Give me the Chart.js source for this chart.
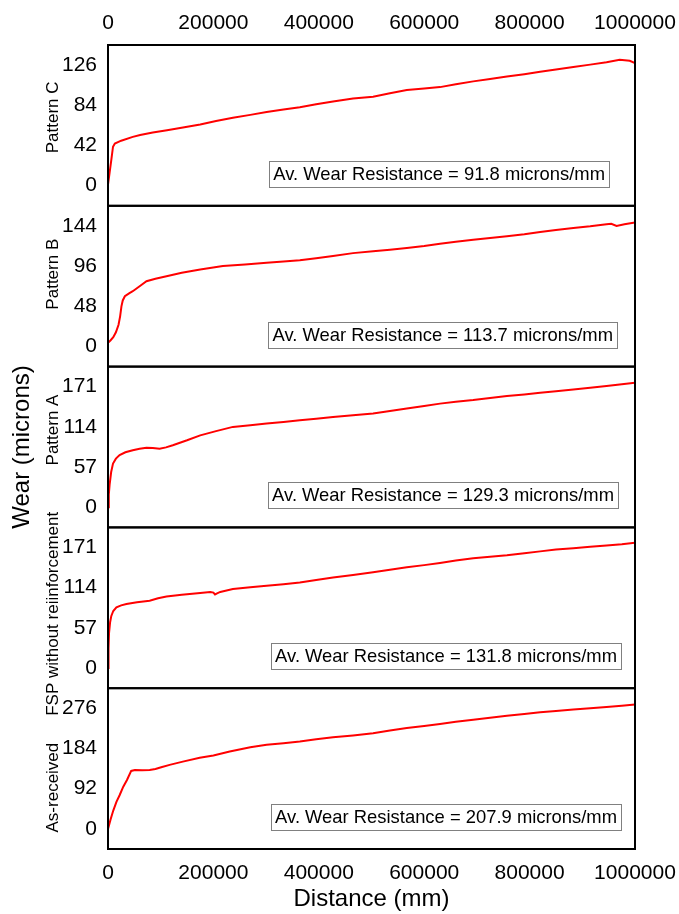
<!DOCTYPE html>
<html>
<head>
<meta charset="utf-8">
<script src="https://cdn.jsdelivr.net/npm/chart.js@4.4.1/dist/chart.umd.min.js"></script>
<style>
  html, body { margin: 0; padding: 0; background: #fff; }
  canvas { display: block; }
</style>
</head>
<body>
<canvas id="wear" width="679" height="914"></canvas>
<script>
// panels from top to bottom
const panelNames = ['Pattern C', 'Pattern B', 'Pattern A', 'FSP without reiinforcement', 'As-received'];
const resistance = [91.8, 113.7, 129.3, 131.8, 207.9];
const tickSteps = [42, 48, 57, 57, 92];
const xTicks = [0, 200000, 400000, 600000, 800000, 1000000];

const cDist = [0, 3000, 6300, 9500, 13000, 25000, 47000, 61000, 85000, 112000, 145000, 175000, 205000, 237000, 270000, 301000, 333000, 364000, 395000, 427000, 465000, 503000, 535000, 567000, 600000, 630000, 660000, 693000, 725000, 757000, 790000, 820000, 850000, 883000, 915000, 946000, 971000, 990000, 1000000];
const cWear = [1, 13.5, 27, 40.7, 44, 47, 51, 53, 55.5, 58, 61, 64, 67.5, 71, 74, 77, 79.5, 82, 85, 88, 91, 93, 96.5, 100, 101.5, 103, 106, 109, 111.5, 114, 116.5, 119, 121.5, 124, 126.5, 129, 131.5, 130.5, 128];

const bDist = [0, 5000, 10000, 15000, 20000, 23000, 25500, 28000, 32000, 40000, 47000, 60000, 73000, 90000, 111000, 140000, 175000, 218000, 260000, 301000, 333000, 364000, 395000, 427000, 465000, 503000, 535000, 567000, 600000, 630000, 660000, 693000, 725000, 757000, 790000, 820000, 850000, 883000, 915000, 946000, 955000, 965000, 980000, 1000000];
const bWear = [4.4, 7.5, 11, 17, 26, 36, 48, 55, 60, 63.5, 66, 72, 78, 81, 84, 88, 92, 96, 98, 100, 101.5, 103, 105.5, 108, 111.5, 113.6, 115.5, 117.6, 120, 122.8, 125, 127.5, 129.5, 131.5, 134, 136.7, 139, 141.4, 143.5, 146, 146.5, 144, 146, 148];

const aDist = [0, 1500, 3200, 6000, 9500, 15000, 22000, 33000, 47000, 60000, 73000, 85000, 98000, 110000, 123000, 150000, 175000, 205000, 237000, 270000, 301000, 333000, 364000, 395000, 427000, 465000, 503000, 535000, 567000, 600000, 630000, 660000, 693000, 725000, 757000, 790000, 820000, 850000, 883000, 915000, 946000, 975000, 1000000];
const aWear = [0, 18, 33, 50, 62, 69, 74, 78, 81, 83, 84.5, 84, 83, 85, 88, 95, 102, 108, 114, 116.5, 118.7, 121, 123.5, 125.5, 128, 130.5, 133, 136.5, 140, 143.5, 147, 149.5, 152, 155, 157.7, 160, 162.4, 164.5, 167, 169.5, 172, 174.5, 176.6];

const fDist = [0, 1000, 2000, 4000, 6300, 10000, 16000, 25000, 35000, 55000, 79000, 95000, 111000, 140000, 175000, 194000, 200000, 203000, 207000, 213000, 237000, 270000, 301000, 333000, 364000, 395000, 427000, 465000, 503000, 535000, 567000, 600000, 630000, 660000, 693000, 725000, 757000, 790000, 820000, 850000, 883000, 915000, 946000, 975000, 1000000];
const fWear = [0, 28, 50, 65, 74, 81, 86, 89, 91, 93.5, 95.4, 99, 101.6, 104, 106.4, 108, 107, 104.5, 106, 108, 112, 114.5, 116.8, 119, 121.5, 125, 128.6, 132, 135.8, 139.5, 142.9, 146, 149, 152.5, 155.7, 158, 160, 163, 165.5, 168, 170, 172, 174, 175.5, 177.6];

const rDist = [0, 5000, 10000, 16000, 22000, 29000, 36000, 44000, 51000, 65000, 79000, 90000, 101000, 117000, 142000, 174000, 200000, 231000, 270000, 301000, 333000, 364000, 395000, 427000, 465000, 503000, 535000, 567000, 600000, 630000, 660000, 693000, 725000, 757000, 790000, 820000, 850000, 883000, 915000, 946000, 975000, 1000000];
const rWear = [0, 22, 42, 62, 77, 96.6, 112, 132.7, 135, 134.5, 135, 137, 141, 146.5, 154, 163, 168, 177, 187, 192.5, 196, 200, 205, 210, 214, 219, 225, 230.7, 235.5, 240, 245, 250, 254.5, 259, 263, 267, 270, 273, 276, 279, 282, 284.5];

const seriesDist = [cDist, bDist, aDist, fDist, rDist];
const seriesWear = [cWear, bWear, aWear, fWear, rWear];
const axisIds = ['yC', 'yB', 'yA', 'yF', 'yR'];

// small per-panel tweaks seen in the reference
const labelShift = [-8, -12, -17, 6, 19];
const boxRightGap = [26, 18, 17, 14, 14];

const FONT = '"Liberation Sans", Arial, sans-serif';
Chart.defaults.font.family = FONT;
Chart.defaults.color = '#000';

const datasets = seriesWear.map((w, i) => ({
    data: w.map((v, j) => ({ x: seriesDist[i][j], y: v })),
    yAxisID: axisIds[i],
    xAxisID: 'x',
    borderColor: '#ff0000',
    borderWidth: 2,
    pointRadius: 0,
    tension: 0
}));

function xAxis(position, height, pad) {
    return {
        type: 'linear',
        position,
        min: 0,
        max: 1000000,
        grid: { display: false, drawTicks: false },
        border: { display: false },
        afterBuildTicks: s => { s.ticks = xTicks.map(v => ({ value: v })); },
        afterFit: s => { s.height = height; s.paddingLeft = 0; s.paddingRight = 0; },
        ticks: { font: { size: 21 }, padding: pad, maxRotation: 0, autoSkip: false, callback: v => String(v) }
    };
}

const scales = {
    x: Object.assign(xAxis('bottom', 65, 12), {
        title: { display: true, text: 'Distance (mm)', font: { size: 24 }, padding: { top: 0, bottom: 0 } }
    }),
    x2: xAxis('top', 45, 9)
};

// stacked axes: the last defined ends up on top, so add bottom panel first
for (let i = axisIds.length - 1; i >= 0; i--) {
    const step = tickSteps[i];
    scales[axisIds[i]] = {
        type: 'linear',
        position: 'left',
        stack: 'wear',
        stackWeight: 1,
        min: -step / 2,
        max: step * 3.5,
        grid: { display: false, drawTicks: false },
        border: { display: false },
        afterBuildTicks: s => { s.ticks = [0, 1, 2, 3].map(k => ({ value: k * step })); },
        afterFit: s => { s.width = 108; },
        ticks: { font: { size: 21 }, padding: 11, autoSkip: false }
    };
}

const panelDecor = {
    id: 'panelDecor',
    afterDraw(chart) {
        const { ctx, chartArea } = chart;
        ctx.save();
        axisIds.forEach((id, i) => {
            const s = chart.scales[id];
            // frame
            ctx.strokeStyle = '#000';
            ctx.lineWidth = 2;
            ctx.strokeRect(chartArea.left, s.top, chartArea.right - chartArea.left, s.bottom - s.top);

            // panel label
            ctx.save();
            ctx.translate(53, (s.top + s.bottom) / 2 + labelShift[i]);
            ctx.rotate(-Math.PI / 2);
            ctx.font = '17px ' + FONT;
            ctx.fillStyle = '#000';
            ctx.textAlign = 'center';
            ctx.textBaseline = 'middle';
            ctx.fillText(panelNames[i], 0, 0);
            ctx.restore();

            // resistance box
            const txt = 'Av. Wear Resistance = ' + resistance[i] + ' microns/mm';
            ctx.font = '18.4px ' + FONT;
            const w = ctx.measureText(txt).width + 8;
            const h = 26;
            const right = chartArea.right - boxRightGap[i];
            const bottom = s.bottom - 19;
            ctx.fillStyle = '#fff';
            ctx.fillRect(right - w, bottom - h, w, h);
            ctx.strokeStyle = '#808080';
            ctx.lineWidth = 1;
            ctx.strokeRect(Math.round(right - w) + 0.5, Math.round(bottom - h) + 0.5, Math.round(w), h);
            ctx.fillStyle = '#000';
            ctx.textAlign = 'left';
            ctx.textBaseline = 'middle';
            ctx.fillText(txt, right - w + 4, bottom - h / 2 + 1);
        });

        // shared y title
        ctx.translate(22, (chartArea.top + chartArea.bottom) / 2);
        ctx.rotate(-Math.PI / 2);
        ctx.font = '24px ' + FONT;
        ctx.fillStyle = '#000';
        ctx.textAlign = 'center';
        ctx.textBaseline = 'middle';
        ctx.fillText('Wear (microns)', 0, 0);
        ctx.restore();
    }
};

new Chart(document.getElementById('wear'), {
    type: 'line',
    data: { datasets },
    options: {
        responsive: false,
        animation: false,
        layout: { padding: { left: 0, right: 44, top: 0, bottom: 0 } },
        plugins: { legend: { display: false }, tooltip: { enabled: false } },
        scales
    },
    plugins: [panelDecor]
});
</script>
</body>
</html>
